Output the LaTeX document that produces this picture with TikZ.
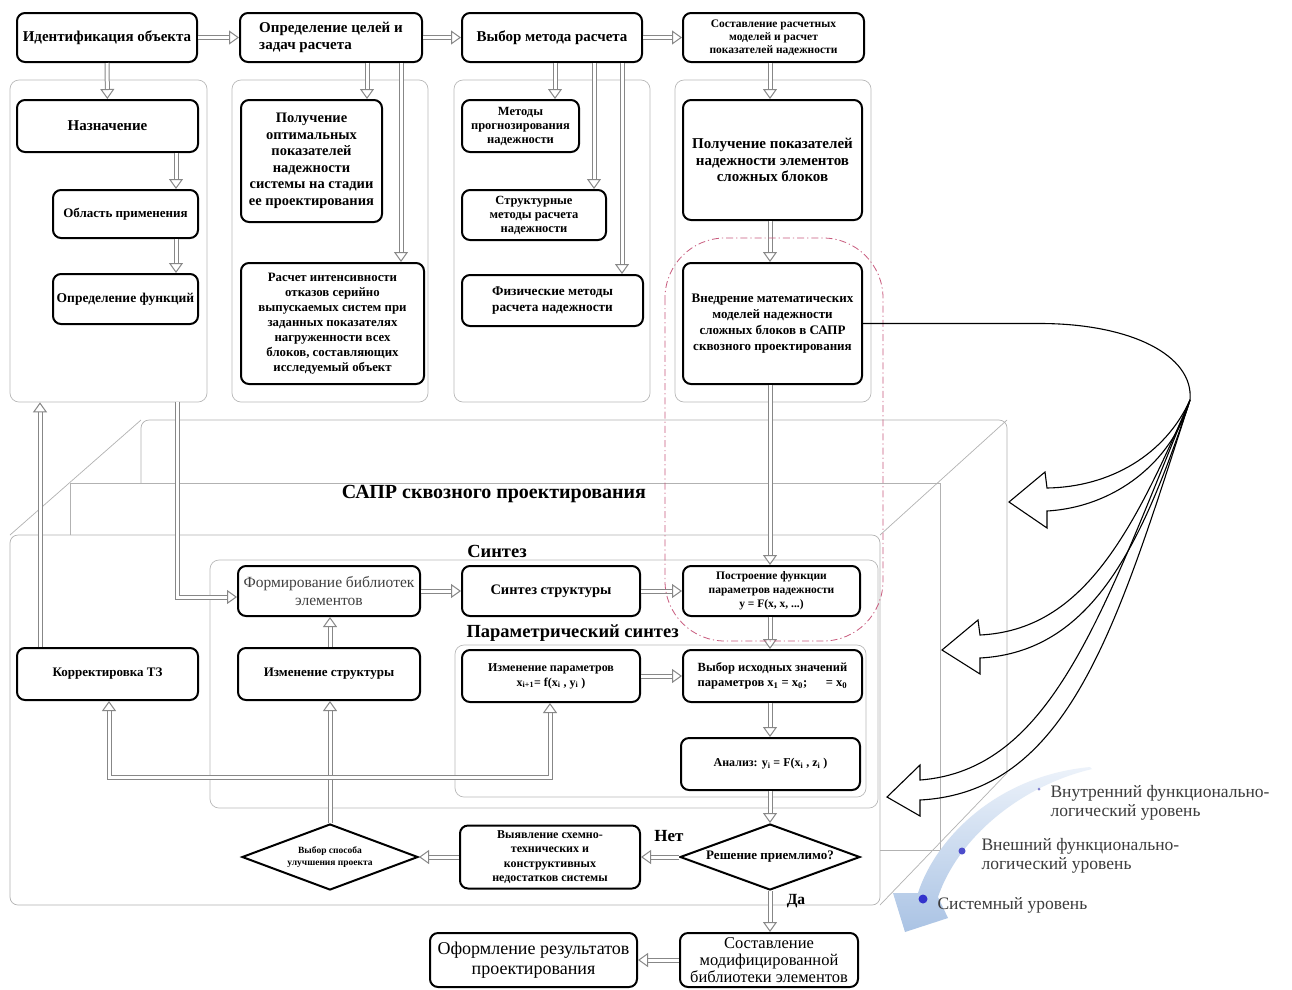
\documentclass[tikz,border=0pt]{standalone}
\usepackage{fontspec}
\setmainfont{Liberation Serif}
\usetikzlibrary{arrows.meta,shapes.geometric,calc}
\newcommand{\fsz}[2]{\fontsize{#1}{#2}\selectfont}
\definecolor{ddred}{RGB}{200,90,125}
\definecolor{lvltext}{RGB}{60,60,60}
\definecolor{bandA}{RGB}{170,195,228}
\definecolor{bandB}{RGB}{236,242,250}
\definecolor{shaft}{RGB}{135,135,135}
\begin{document}
\begin{tikzpicture}[x=1pt,y=-1pt,
  box/.style={draw, line width=2pt, rounded corners=8pt, fill=white, align=center, inner sep=1pt},
  wh/.style 2 args={minimum width=#1pt, minimum height=#2pt},
  panel/.style={draw=gray!55, line width=0.7pt, rounded corners=9pt},
  ha/.style={draw=shaft, line width=1pt, double=white, double distance=3pt, -{Triangle[open, length=10pt, width=14pt, fill=white]}},
  hl/.style={draw=shaft, line width=1pt, double=white, double distance=3pt},
  cube/.style={draw=gray!60, line width=0.7pt},
  dia/.style={draw, diamond, aspect=2.7, line width=2pt, fill=white, align=center, inner sep=0pt},
  big/.style={draw=black, line width=1.1pt, line join=miter},
  ddash/.style={draw=ddred, line width=0.8pt, dash pattern=on 7pt off 3pt on 1.2pt off 3pt},
  lvl/.style={font=\fsz{17.5}{19.5}, text=lvltext, align=left, anchor=west}
]
\fill[white] (0,0) rectangle (1292,989);
\useasboundingbox (0,0) rectangle (1292,989);

% ---------- 3D box of the CAD system ----------
\draw[cube, rounded corners=8pt] (10,535) rectangle (880,905);
\draw[cube] (10,535) -- (141,420);
\draw[cube] (880,535) -- (1007,420);
\draw[cube] (880,905) -- (1007,773);
\draw[cube] (70,535) -- (70,483) -- (940,483) -- (940,850) -- (880,850);
\draw[cube, rounded corners=8pt] (141,483) -- (141,420) -- (1007,420) -- (1007,773);
\node[font=\fsz{20}{22}\bfseries] (lsapr) at (494,494) {САПР сквозного проектирования};

% ---------- panels ----------
\node[panel, wh={197}{322}] (pA) at (108.5,241) {};
\node[panel, wh={196}{322}] (pB) at (330,241) {};
\node[panel, wh={196}{322}] (pC) at (552,241) {};
\node[panel, wh={196}{322}] (pD) at (773,241) {};
\node[panel, wh={668}{248}] (psyn) at (544,684) {};
\node[panel, wh={411}{152}] (ppar) at (660.5,721) {};

% ---------- top row ----------
\node[box, wh={180}{49}, font=\fsz{15}{17}\bfseries] (id) at (107,37.5) {Идентификация объекта};
\node[box, wh={182}{49}, align=left, font=\fsz{15}{17}\bfseries] (goal) at (331,37.5) {Определение целей и\\задач расчета};
\node[box, wh={180}{49}, font=\fsz{15}{17}\bfseries] (meth) at (552,37.5) {Выбор метода расчета};
\node[box, wh={181}{49}, font=\fsz{11.5}{13}\bfseries] (comp) at (773.5,37.5) {Составление расчетных\\моделей и расчет\\показателей надежности};

% ---------- panel contents ----------
\node[box, wh={181}{52}, font=\fsz{15}{16}\bfseries] (nazn) at (107.5,126) {Назначение};
\node[box, wh={145}{48}, font=\fsz{13}{15}\bfseries] (obl) at (125.5,214) {Область применения};
\node[box, wh={145}{50}, font=\fsz{13.5}{15}\bfseries] (opr) at (125.5,299) {Определение функций};

\node[box, wh={141}{122}, font=\fsz{14.5}{16.5}\bfseries] (polopt) at (311.5,161) {Получение\\оптимальных\\показателей\\надежности\\системы на стадии\\ее проектирования};
\node[box, wh={183}{121}, font=\fsz{12.8}{15}\bfseries] (rasch) at (332.5,323.5) {Расчет интенсивности\\отказов серийно\\выпускаемых систем при\\заданных показателях\\нагруженности всех\\блоков, составляющих\\исследуемый объект};

\node[box, wh={117}{52}, font=\fsz{12.5}{14}\bfseries] (mprog) at (520.5,126) {Методы\\прогнозирования\\надежности};
\node[box, wh={144}{50}, font=\fsz{12.5}{14}\bfseries] (mstr) at (534,215) {Структурные\\методы расчета\\надежности};
\node[box, wh={181}{51}, font=\fsz{13.3}{15.5}\bfseries] (mfiz) at (552.5,300.5) {Физические методы\\расчета надежности};

\node[box, wh={179}{120}, font=\fsz{15}{16.5}\bfseries] (polpok) at (772.5,160) {Получение показателей\\надежности элементов\\сложных блоков};
\node[box, wh={179}{121}, font=\fsz{13}{16}\bfseries] (vned) at (772.5,323.5) {Внедрение математических\\моделей надежности\\сложных блоков в САПР\\сквозного проектирования};

% ---------- synthesis ----------
\node[font=\fsz{18.5}{20}\bfseries] (lsin) at (497,551) {Синтез};
\node[font=\fsz{18.5}{20}\bfseries, anchor=west] (lpar) at (463,633) {Параметрический синтез};
\node[box, wh={182}{50}, font=\fsz{15.5}{17.5}, text=black!75] (form) at (329,591) {Формирование библиотек\\элементов};
\node[box, wh={178}{50}, font=\fsz{14.5}{17}\bfseries] (sstr) at (551,591) {Синтез структуры};
\node[box, wh={177}{50}, font=\fsz{11.5}{14}\bfseries] (postr) at (771.5,591) {Построение функции\\параметров надежности\\y = F(x, x, ...)};
\node[box, wh={178}{52}, font=\fsz{12}{15}\bfseries] (izmpar) at (551,676) {Изменение параметров\\x\textsubscript{i+1}= f(x\textsubscript{i} , y\textsubscript{i} )};
\node[box, wh={179}{52}, font=\fsz{12.5}{15}\bfseries] (vybor) at (772.5,676) {Выбор исходных значений\\параметров x\textsubscript{1} = x\textsubscript{0};\quad\ \ = x\textsubscript{0}};
\node[box, wh={179}{52}, font=\fsz{12}{15}\bfseries] (anal) at (770.5,764) {Анализ: y\textsubscript{i} = F(x\textsubscript{i} , z\textsubscript{i} )};
\node[box, wh={181}{52}, font=\fsz{13}{15}\bfseries] (korr) at (107.5,674) {Корректировка ТЗ};
\node[box, wh={182}{52}, font=\fsz{13}{15}\bfseries] (izmstr) at (329,674) {Изменение структуры};
\node[dia, minimum width=180pt, minimum height=66pt, font=\fsz{13}{15}\bfseries] (resh) at (770,857) {Решение приемлимо?};
\node[box, wh={180}{63}, font=\fsz{12}{14.5}\bfseries] (vyyav) at (550,857) {Выявление схемно-\\технических и\\конструктивных\\недостатков системы};
\node[dia, minimum width=176pt, minimum height=66pt, font=\fsz{9.5}{11.5}\bfseries] (vsp) at (330,857) {Выбор способа\\улучшения проекта};
\node[box, wh={178}{54}, font=\fsz{16.5}{17}] (sost) at (769,960) {Составление\\модифицированной\\библиотеки элементов};
\node[box, wh={207}{54}, font=\fsz{18}{20}] (oform) at (533.5,960) {Оформление результатов\\проектирования};
\node[font=\fsz{17}{18}\bfseries] (lnet) at (669,836) {Нет};
\node[font=\fsz{15.5}{18}\bfseries] (lda) at (796,901) {Да};

% ---------- guide coordinates ----------
\coordinate (gA) at (176,0);
\coordinate (gB1) at (367,0);
\coordinate (gB2) at (401,0);
\coordinate (gC1) at (555,0);
\coordinate (gC2) at (594,0);
\coordinate (gC3) at (622,0);
\coordinate (gD) at (770,0);
\coordinate (gIn) at (177,0);
\coordinate (gK) at (40,0);
\coordinate (gK2) at (109,0);
\coordinate (gP) at (550,0);
\coordinate (jn) at (330,777);
\coordinate (fin) at (0,597);

% ---------- hollow arrows ----------
\draw[ha] (id) -- (goal);
\draw[ha] (goal) -- (meth);
\draw[ha] (meth) -- (comp);
\draw[ha] (id) -- (nazn);
\draw[ha] (nazn.south -| gA) -- (obl.north -| gA);
\draw[ha] (obl.south -| gA) -- (opr.north -| gA);
\draw[ha] (goal.south -| gB1) -- (polopt.north -| gB1);
\draw[ha] (goal.south -| gB2) -- (rasch.north -| gB2);
\draw[ha] (meth.south -| gC1) -- (mprog.north -| gC1);
\draw[ha] (meth.south -| gC2) -- (mstr.north -| gC2);
\draw[ha] (meth.south -| gC3) -- (mfiz.north -| gC3);
\draw[ha] (comp.south -| gD) -- (polpok.north -| gD);
\draw[ha] (polpok.south -| gD) -- (vned.north -| gD);
\draw[ha] (vned.south -| gD) -- (postr.north -| gD);
\draw[ha] (pA.south -| gIn) -- (fin -| gIn) -- (form.west |- fin);
\draw[ha] (korr.north -| gK) -- (pA.south -| gK);
\draw[ha] (form) -- (sstr);
\draw[ha] (sstr) -- (postr);
\draw[ha] (postr.south -| gD) -- (vybor.north -| gD);
\draw[ha] (izmpar) -- (vybor);
\draw[ha] (vybor.south -| gD) -- (anal.north -| gD);
\draw[ha] (anal.south -| gD) -- (resh.north);
\draw[ha] (resh) -- (vyyav);
\draw[ha] (vyyav) -- (vsp);
\draw[hl] (vsp.north) -- (jn);
\draw[ha] (jn) -- (izmstr.south -| jn);
\draw[ha] (jn) -| (korr.south -| gK2);
\draw[ha] (jn) -| (izmpar.south -| gP);
\draw[ha] (izmstr.north -| jn) -- (form.south -| jn);
\draw[ha] (resh.south) -- (sost.north -| resh.south);
\draw[ha] (sost) -- (oform);

% ---------- dash-dot highlight ----------
\draw[ddash, rounded corners=60pt] (665,238) rectangle (883,641);

% ---------- curved arrows to levels ----------
\coordinate (apex) at (1190,400);
\coordinate (bend) at (1040,323.5);
\draw[big] (vned.east) -- (bend) .. controls (1130,323.5) and (1194,355) .. (apex);
\draw[big] (apex) .. controls (1165,455) and (1110,487) .. (1047,488) -- (1045,472) -- (1009,502) -- (1047,528) -- (1047,511) .. controls (1115,507) and (1172,462) .. (apex);
\draw[big] (apex) .. controls (1130,540) and (1080,630) .. (980,635) -- (978,620) -- (942,650) -- (980,674) -- (980,658) .. controls (1092,652) and (1142,545) .. (apex);
\draw[big] (apex) .. controls (1100,620) and (1050,770) .. (920,780) -- (920,765) -- (887,797) -- (920,816) -- (920,800) .. controls (1068,792) and (1116,630) .. (apex);

% ---------- levels legend ----------
\shade[top color=bandB, bottom color=bandA] (1090,767) .. controls (995,776) and (935,840) .. (918,893) -- (893,893) -- (905,932) -- (948,918) -- (938,897) .. controls (958,838) and (1020,786) .. (1092,769) -- cycle;
\fill[blue!45!gray!70] (1039,789) circle (1.5pt);
\fill[blue!55!gray!90] (962,851) circle (3.5pt);
\fill[blue!60!gray] (923,899) circle (4.5pt);
\node[lvl] (lv1) at (1047,803) {Внутренний функционально-\\логический уровень};
\node[lvl] (lv2) at (978,856) {Внешний функционально-\\логический уровень};
\node[lvl] (lv3) at (934,905) {Системный уровень};
\end{tikzpicture}
\end{document}
